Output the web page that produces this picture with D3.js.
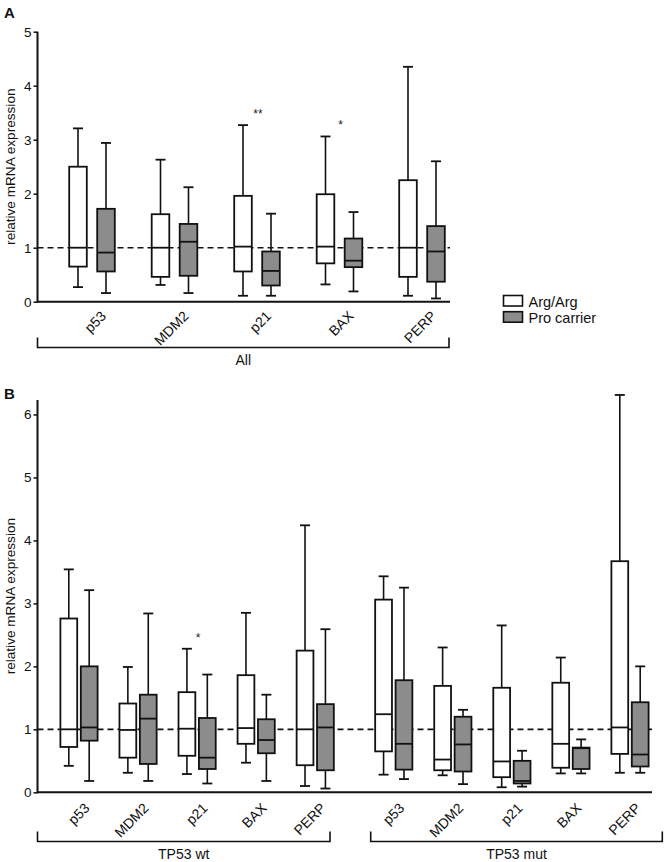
<!DOCTYPE html>
<html>
<head>
<meta charset="utf-8">
<script src="https://cdn.jsdelivr.net/npm/d3@7"></script>
<style>
  html, body { margin: 0; padding: 0; background: #fff; }
  svg { display: block; font-family: "Liberation Sans", Arial, Helvetica, sans-serif; }
</style>
</head>
<body>
<svg id="chart" width="667" height="862"></svg>
<script>
// ---------- DATA ----------
const genes = ["p53", "MDM2", "p21", "BAX", "PERP"];
const seriesNames = ["Arg/Arg", "Pro carrier"];
const seriesColors = ["#ffffff", "#8c8c8c"];

// each entry: [min, Q1, median, Q3, max]
const allArgArg = [
  [0.27, 0.65, 1.00, 2.50, 3.21],
  [0.31, 0.46, 1.00, 1.62, 2.63],
  [0.11, 0.56, 1.02, 1.96, 3.27],
  [0.32, 0.71, 1.02, 1.99, 3.06],
  [0.11, 0.46, 1.00, 2.25, 4.35]
];
const allPro = [
  [0.16, 0.56, 0.91, 1.72, 2.94],
  [0.16, 0.48, 1.11, 1.44, 2.12],
  [0.11, 0.30, 0.57, 0.93, 1.63],
  [0.19, 0.64, 0.76, 1.17, 1.66],
  [0.06, 0.37, 0.93, 1.40, 2.60]
];
const wtArgArg = [
  [0.42, 0.72, 1.00, 2.76, 3.54],
  [0.31, 0.55, 0.99, 1.41, 1.99],
  [0.29, 0.58, 1.01, 1.59, 2.28],
  [0.47, 0.77, 1.02, 1.86, 2.85],
  [0.10, 0.43, 1.00, 2.25, 4.24]
];
const wtPro = [
  [0.18, 0.82, 1.03, 2.00, 3.21],
  [0.18, 0.45, 1.17, 1.55, 2.84],
  [0.14, 0.37, 0.55, 1.18, 1.87],
  [0.18, 0.62, 0.83, 1.16, 1.55],
  [0.06, 0.35, 1.03, 1.40, 2.59]
];
const mutArgArg = [
  [0.28, 0.65, 1.24, 3.06, 3.43],
  [0.27, 0.35, 0.52, 1.69, 2.30],
  [0.08, 0.24, 0.49, 1.66, 2.65],
  [0.30, 0.39, 0.77, 1.74, 2.14],
  [0.31, 0.61, 1.03, 3.67, 6.31]
];
const mutPro = [
  [0.21, 0.36, 0.77, 1.78, 3.25],
  [0.13, 0.33, 0.76, 1.20, 1.31],
  [0.09, 0.14, 0.18, 0.50, 0.66],
  [0.30, 0.37, 0.70, 0.71, 0.84],
  [0.31, 0.41, 0.60, 1.43, 2.00]
];
const ticksA = [0, 1, 2, 3, 4, 5];
const ticksB = [0, 1, 2, 3, 4, 5, 6];
const groupsB = ["TP53 wt", "TP53 mut"];
// significance marks: [panel, group, gene, label]
const sigMarks = [
  ["A", 0, "p21", "**"],
  ["A", 0, "BAX", "*"],
  ["B", 0, "p21", "*"]
];
const refLine = 1;
const yTitle = "relative mRNA expression";

// ---------- DRAW ----------
const svg = d3.select("#chart");
const FONT = 14;

function drawPanel(opt) {
  const g = svg.append("g");
  const y = opt.y;
  // y axis
  const axis = d3.axisLeft(y).tickValues(opt.ticks).tickSize(4).tickSizeOuter(0).tickPadding(2)
    .tickFormat(d3.format("d"));
  const ax = g.append("g").attr("transform", `translate(${opt.axisX},0)`).call(axis);
  ax.select(".domain").remove();
  ax.selectAll(".tick line").attr("stroke", "#111").attr("stroke-width", 1.5);
  ax.selectAll(".tick text").attr("font-size", 13.5).attr("fill", "#111")
    .attr("font-family", "Liberation Sans, Arial, sans-serif");
  g.append("line").attr("x1", opt.axisX).attr("x2", opt.axisX)
    .attr("y1", y(y.domain()[1])).attr("y2", y(0) + 1)
    .attr("stroke", "#111").attr("stroke-width", 2);
  // x axis line
  g.append("line").attr("x1", opt.axisX).attr("x2", opt.axisEnd)
    .attr("y1", y(0)).attr("y2", y(0)).attr("stroke", "#111").attr("stroke-width", 2);
  // reference line
  g.append("line").attr("x1", opt.axisX).attr("x2", opt.axisEnd)
    .attr("y1", y(refLine)).attr("y2", y(refLine))
    .attr("stroke", "#111").attr("stroke-width", 1.6).attr("stroke-dasharray", "6,4");
  // y title
  const yMid = (y(y.domain()[1]) + y(0)) / 2;
  g.append("text").attr("transform", `translate(14.5,${yMid}) rotate(-90)`)
    .attr("text-anchor", "middle").attr("font-size", 13.6).attr("fill", "#111").text(yTitle);
  // boxes
  opt.groups.forEach((grp, gi) => {
    genes.forEach((gene, i) => {
      const cx = opt.x(opt.slot(gi, i));
      [grp.argarg[i], grp.pro[i]].forEach((st, si) => {
        const c = cx + (si === 0 ? -opt.off : opt.off);
        const [mn, q1, md, q3, mx] = st;
        const bg = g.append("g");
        bg.append("line").attr("x1", c).attr("x2", c).attr("y1", y(mx)).attr("y2", y(q3))
          .attr("stroke", "#111").attr("stroke-width", 1.6);
        bg.append("line").attr("x1", c).attr("x2", c).attr("y1", y(q1)).attr("y2", y(mn))
          .attr("stroke", "#111").attr("stroke-width", 1.6);
        [mx, mn].forEach(v => bg.append("line").attr("x1", c - opt.cap / 2).attr("x2", c + opt.cap / 2)
          .attr("y1", y(v)).attr("y2", y(v)).attr("stroke", "#111").attr("stroke-width", 1.8));
        bg.append("rect").attr("x", c - opt.bw / 2).attr("width", opt.bw)
          .attr("y", y(q3)).attr("height", y(q1) - y(q3))
          .attr("fill", seriesColors[si]).attr("stroke", "#111").attr("stroke-width", 1.8);
        bg.append("line").attr("x1", c - opt.bw / 2).attr("x2", c + opt.bw / 2)
          .attr("y1", y(md)).attr("y2", y(md)).attr("stroke", "#111").attr("stroke-width", 1.8);
      });
      // category label
      g.append("text")
        .attr("transform", `translate(${cx + opt.lblDx},${opt.lblY}) rotate(-45)`)
        .attr("text-anchor", "end").attr("font-size", FONT).attr("fill", "#111").text(gene);
    });
    // bracket
    const [bx0, bx1] = opt.bracket[gi];
    g.append("path")
      .attr("d", `M${bx0},${opt.bracketY - 10}V${opt.bracketY}H${bx1}V${opt.bracketY - 10}`)
      .attr("fill", "none").attr("stroke", "#111").attr("stroke-width", 1.6);
    g.append("text").attr("x", (bx0 + bx1) / 2).attr("y", opt.bracketY + 17)
      .attr("text-anchor", "middle").attr("font-size", FONT).attr("fill", "#111").text(grp.name);
  });
  // significance
  sigMarks.filter(s => s[0] === opt.panel).forEach(s => {
    const i = genes.indexOf(s[2]);
    const grp = opt.groups[s[1]];
    const top = Math.max(grp.argarg[i][4], grp.pro[i][4]);
    g.append("text").attr("x", opt.x(opt.slot(s[1], i)) + 1).attr("y", y(top) - 7)
      .attr("text-anchor", "middle").attr("font-size", 12).attr("fill", "#222").text(s[3]);
  });
  // panel letter
  g.append("text").attr("x", 4).attr("y", opt.letterY).attr("font-size", 15)
    .attr("font-weight", "bold").attr("fill", "#111").text(opt.panel);
}

// Panel A
const yA = d3.scaleLinear().domain([0, 5]).range([301.7, 31.7]);
const xA = d3.scaleLinear().domain([0, 4]).range([92, 422]);
drawPanel({
  panel: "A", y: yA, x: xA, ticks: ticksA, axisX: 37.5, axisEnd: 450,
  slot: (gi, i) => i, off: 14, bw: 17.6, cap: 10,
  groups: [{ name: "All", argarg: allArgArg, pro: allPro }],
  lblDx: 15, lblY: 317, bracket: [[37.5, 449]], bracketY: 347.5, letterY: 18
});

// Panel B
const yB = d3.scaleLinear().domain([0, 6.23]).range([792.3, 400]);
const groupGap = 0.33;
const xB = d3.scaleLinear().domain([0, 9 + groupGap]).range([79, 630]);
drawPanel({
  panel: "B", y: yB, x: xB, ticks: ticksB, axisX: 37.5, axisEnd: 652,
  slot: (gi, i) => i + gi * (5 + groupGap), off: 10.2, bw: 16.8, cap: 10,
  groups: [
    { name: groupsB[0], argarg: wtArgArg, pro: wtPro },
    { name: groupsB[1], argarg: mutArgArg, pro: mutPro }
  ],
  lblDx: 11.5, lblY: 809, bracket: [[37.5, 330], [370.7, 662.3]], bracketY: 841.5, letterY: 399
});

// Legend
const leg = svg.append("g");
seriesNames.forEach((nm, si) => {
  leg.append("rect").attr("x", 503.5).attr("y", 295.5 + si * 16.2).attr("width", 19).attr("height", 10.5)
    .attr("fill", seriesColors[si]).attr("stroke", "#111").attr("stroke-width", 1.6);
  leg.append("text").attr("x", 528.5).attr("y", 306.5 + si * 16.2).attr("font-size", 14.5)
    .attr("fill", "#111").text(nm);
});
</script>
</body>
</html>
